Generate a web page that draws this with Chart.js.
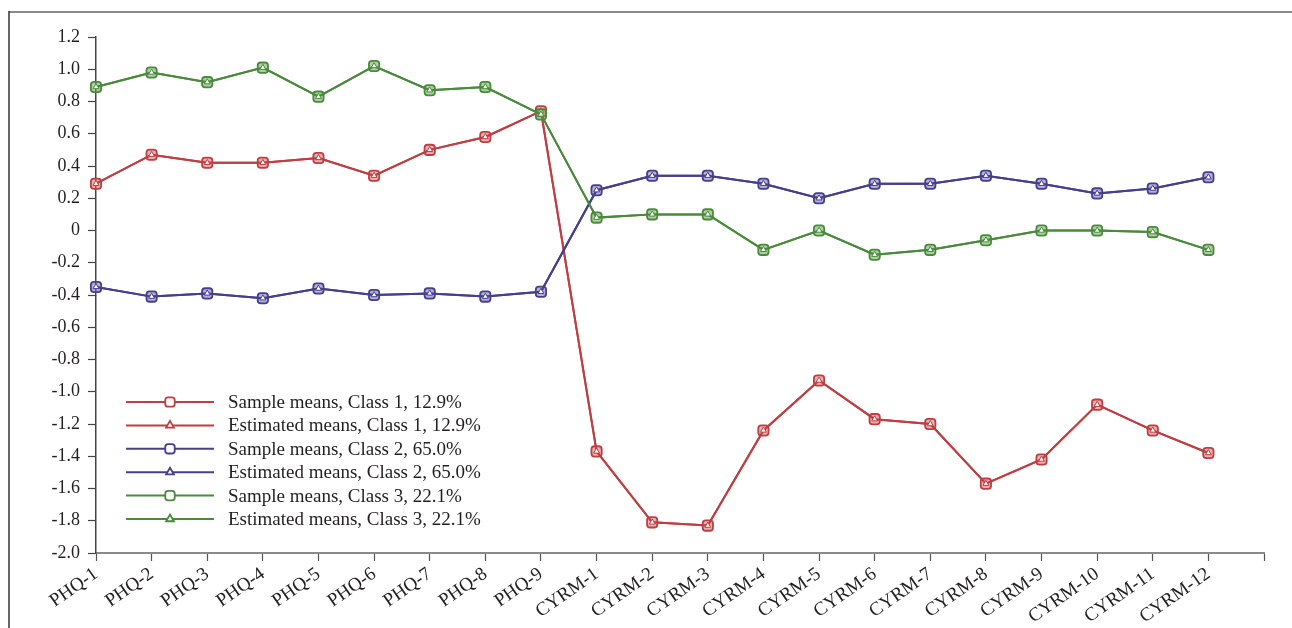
<!DOCTYPE html>
<html>
<head>
<meta charset="utf-8">
<script src="https://cdn.jsdelivr.net/npm/chart.js@4"></script>
<style>
html,body{margin:0;padding:0;background:#fff;}
#wrap{position:relative;width:1292px;height:628px;}
</style>
</head>
<body>
<div id="wrap"><canvas id="c" width="1292" height="628"></canvas></div>
<script>
const categories = ['PHQ-1','PHQ-2','PHQ-3','PHQ-4','PHQ-5','PHQ-6','PHQ-7','PHQ-8','PHQ-9',
  'CYRM-1','CYRM-2','CYRM-3','CYRM-4','CYRM-5','CYRM-6','CYRM-7','CYRM-8','CYRM-9','CYRM-10','CYRM-11','CYRM-12'];

const sampleClass1    = [0.29,0.47,0.42,0.42,0.45,0.34,0.50,0.58,0.74,-1.37,-1.81,-1.83,-1.24,-0.93,-1.17,-1.20,-1.57,-1.42,-1.08,-1.24,-1.38];
const estimatedClass1 = [0.29,0.47,0.42,0.42,0.45,0.34,0.50,0.58,0.74,-1.37,-1.81,-1.83,-1.24,-0.93,-1.17,-1.20,-1.57,-1.42,-1.08,-1.24,-1.38];
const sampleClass2    = [-0.35,-0.41,-0.39,-0.42,-0.36,-0.40,-0.39,-0.41,-0.38,0.25,0.34,0.34,0.29,0.20,0.29,0.29,0.34,0.29,0.23,0.26,0.33];
const estimatedClass2 = [-0.35,-0.41,-0.39,-0.42,-0.36,-0.40,-0.39,-0.41,-0.38,0.25,0.34,0.34,0.29,0.20,0.29,0.29,0.34,0.29,0.23,0.26,0.33];
const sampleClass3    = [0.89,0.98,0.92,1.01,0.83,1.02,0.87,0.89,0.72,0.08,0.10,0.10,-0.12,0.00,-0.15,-0.12,-0.06,0.00,0.00,-0.01,-0.12];
const estimatedClass3 = [0.89,0.98,0.92,1.01,0.83,1.02,0.87,0.89,0.72,0.08,0.10,0.10,-0.12,0.00,-0.15,-0.12,-0.06,0.00,0.00,-0.01,-0.12];

const seriesNames = ['Sample means, Class 1, 12.9%','Estimated means, Class 1, 12.9%',
  'Sample means, Class 2, 65.0%','Estimated means, Class 2, 65.0%',
  'Sample means, Class 3, 22.1%','Estimated means, Class 3, 22.1%'];
const yMin = -2.0, yMax = 1.2, yStep = 0.2;

const RED = '#bd3f43', BLUE = '#463f8c', GREEN = '#4a8a3c';
const RED_F = 'rgba(214,110,110,0.55)', BLUE_F = 'rgba(120,110,190,0.55)', GREEN_F = 'rgba(110,170,90,0.55)';
const FONT = '"Liberation Serif","DejaVu Serif",serif';

function sampleDs(label, data, color, fill, order){
  return {label, data, borderColor: color, backgroundColor: fill, borderWidth: 2,
    pointStyle: 'rectRounded', pointRadius: 6, pointBorderWidth: 1.8,
    pointBorderColor: color, pointBackgroundColor: fill, tension: 0, order};
}
function estDs(label, data, color, order){
  return {label, data, borderColor: color, backgroundColor: '#fff', borderWidth: 2,
    pointStyle: 'triangle', pointRadius: 3.4, pointBorderWidth: 1,
    pointBorderColor: color, pointBackgroundColor: '#ffffff', tension: 0, order};
}

const datasets = [
  sampleDs(seriesNames[0], sampleClass1, RED, RED_F, 5),
  estDs(seriesNames[1], estimatedClass1, RED, 4),
  sampleDs(seriesNames[2], sampleClass2, BLUE, BLUE_F, 3),
  estDs(seriesNames[3], estimatedClass2, BLUE, 2),
  sampleDs(seriesNames[4], sampleClass3, GREEN, GREEN_F, 1),
  estDs(seriesNames[5], estimatedClass3, GREEN, 0)
];

const frameAndLegend = {
  id: 'frameAndLegend',
  afterDraw(chart){
    const ctx = chart.ctx;
    ctx.save();
    ctx.strokeStyle = '#8a8a8a'; ctx.lineWidth = 2;
    ctx.beginPath(); ctx.moveTo(9, 12); ctx.lineTo(1292, 12); ctx.stroke();
    ctx.strokeStyle = '#333'; ctx.lineWidth = 1.5;
    ctx.beginPath(); ctx.moveTo(9, 11); ctx.lineTo(9, 628); ctx.stroke();
    const x0 = 126, x1 = 214, mx = 170, tx = 228, y0 = 402, dy = 23.4;
    ctx.font = '19px ' + FONT;
    ctx.textBaseline = 'middle'; ctx.textAlign = 'left';
    chart.data.datasets.forEach((ds, i) => {
      const y = y0 + i * dy;
      ctx.strokeStyle = ds.borderColor; ctx.lineWidth = 2;
      ctx.beginPath(); ctx.moveTo(x0, y); ctx.lineTo(x1, y); ctx.stroke();
      ctx.lineWidth = 1.8;
      ctx.fillStyle = '#ffffff';
      Chart.helpers.drawPoint(ctx, {pointStyle: ds.pointStyle, radius: ds.pointStyle === 'triangle' ? 4.5 : 5.5, rotation: 0, borderWidth: 1.8}, mx, y);
      ctx.fillStyle = '#231f20';
      ctx.fillText(ds.label, tx, y + 1);
    });
    ctx.restore();
  }
};

new Chart(document.getElementById('c'), {
  type: 'line',
  data: { labels: [...categories, ''], datasets },
  options: {
    responsive: false, animation: false,
    layout: { padding: { left: 0, top: 37, right: 28, bottom: 0 } },
    plugins: { legend: { display: false }, tooltip: { enabled: false } },
    scales: {
      x: {
        offset: false,
        afterFit(s){ s.height = 75; },
        grid: { display: true, drawOnChartArea: false, drawTicks: true, tickLength: 8, color: '#555', tickWidth: 1.2 },
        border: { display: true, color: '#8a8a8a', width: 2 },
        ticks: { autoSkip: false, minRotation: 35, maxRotation: 35, padding: 2,
          color: '#231f20', font: { family: FONT, size: 19 } }
      },
      y: {
        min: yMin, max: yMax,
        afterFit(s){ s.width = 96; },
        grid: { display: true, drawOnChartArea: false, drawTicks: true, tickLength: 8, color: '#444', tickWidth: 1.2 },
        border: { display: true, color: '#444', width: 1.5 },
        ticks: { stepSize: yStep, padding: 8, color: '#231f20', font: { family: FONT, size: 18 },
          callback: v => Math.abs(v) < 1e-9 ? '0' : v.toFixed(1) }
      }
    }
  },
  plugins: [frameAndLegend]
});
</script>
</body>
</html>
